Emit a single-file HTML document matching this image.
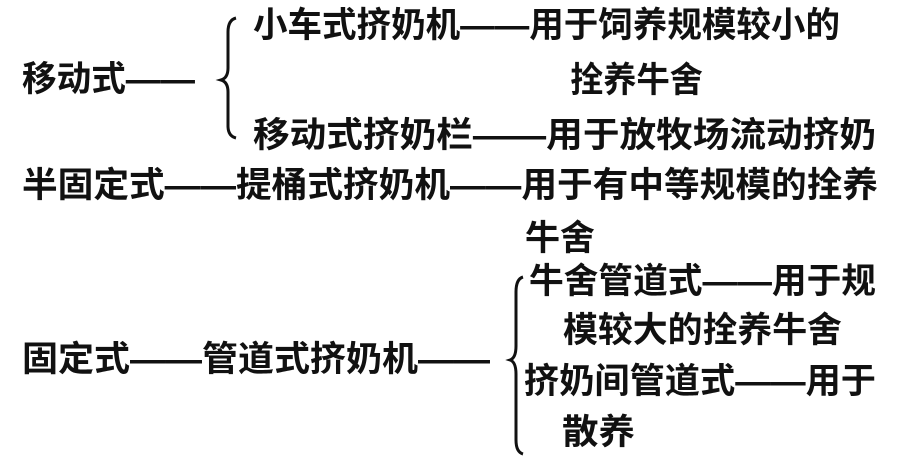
<!DOCTYPE html>
<html><head><meta charset="utf-8"><style>
html,body{margin:0;padding:0;background:#fff;}
svg{display:block;}
text{font-family:"Liberation Sans","Noto Sans CJK SC",sans-serif;font-weight:700;font-size:35px;fill:#111;}
</style></head><body>
<svg width="898" height="467" viewBox="0 0 898 467" xmlns="http://www.w3.org/2000/svg">
<text x="253" y="37" textLength="587" lengthAdjust="spacingAndGlyphs">小车式挤奶机——用于饲养规模较小的</text>
<text x="570" y="92" textLength="133" lengthAdjust="spacingAndGlyphs">拴养牛舍</text>
<text x="22" y="91" textLength="173" lengthAdjust="spacingAndGlyphs">移动式——</text>
<text x="253" y="147" textLength="623" lengthAdjust="spacingAndGlyphs">移动式挤奶栏——用于放牧场流动挤奶</text>
<text x="22" y="197" textLength="856" lengthAdjust="spacingAndGlyphs">半固定式——提桶式挤奶机——用于有中等规模的拴养</text>
<text x="525" y="250" textLength="70" lengthAdjust="spacingAndGlyphs">牛舍</text>
<text x="529" y="293" textLength="347" lengthAdjust="spacingAndGlyphs">牛舍管道式——用于规</text>
<text x="563" y="342" textLength="279" lengthAdjust="spacingAndGlyphs">模较大的拴养牛舍</text>
<text x="22" y="371" textLength="468" lengthAdjust="spacingAndGlyphs">固定式——管道式挤奶机——</text>
<text x="524" y="393" textLength="352" lengthAdjust="spacingAndGlyphs">挤奶间管道式——用于</text>
<text x="562" y="444" textLength="73" lengthAdjust="spacingAndGlyphs">散养</text>
<path d="M236 18 Q228 20 228 32 L228 68 Q228 78 221 80 Q228 82 228 92 L228 126 Q228 136 236 138" fill="none" stroke="#111" stroke-width="3"/>
<path d="M523 277 Q516 279 516 292 L516 346 Q516 358 510 360 Q516 362 516 374 L516 440 Q516 452 523 454" fill="none" stroke="#111" stroke-width="3"/>
</svg>
</body></html>
